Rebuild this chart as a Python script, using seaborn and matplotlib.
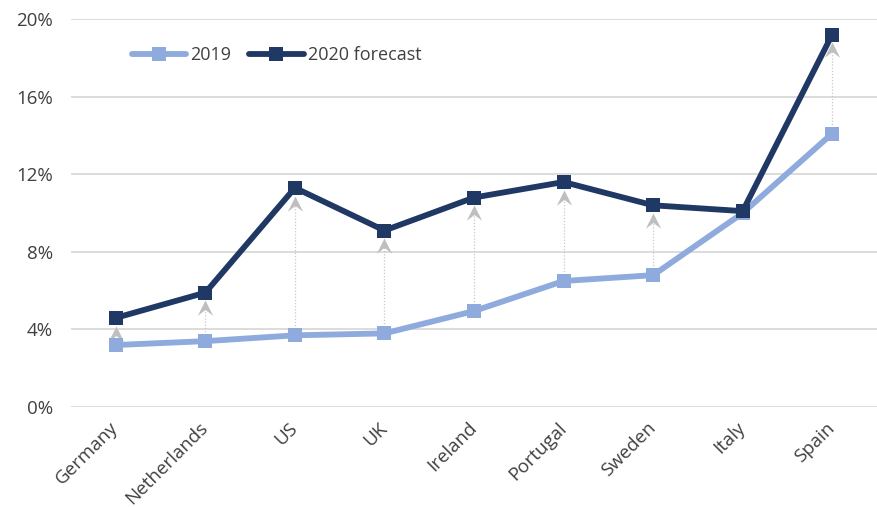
import numpy as np
import pandas as pd
import seaborn as sns
import matplotlib
matplotlib.use("Agg")
import matplotlib.pyplot as plt
from matplotlib.path import Path
from matplotlib.ticker import FuncFormatter

countries = ["Germany", "Netherlands", "US", "UK", "Ireland", "Portugal", "Sweden", "Italy", "Spain"]
rate_2019 = [3.2, 3.4, 3.7, 3.8, 4.95, 6.5, 6.8, 10.0, 14.1]
rate_2020 = [4.6, 5.9, 11.3, 9.1, 10.8, 11.6, 10.4, 10.1, 19.2]
series_names = ["2019", "2020 forecast"]
y_ticks = [0, 4, 8, 12, 16, 20]

sns.set_theme(style="white")
plt.rcParams["font.family"] = ["Open Sans", "DejaVu Sans"]

df = pd.DataFrame({
    "country": countries * 2,
    "rate": rate_2019 + rate_2020,
    "series": [series_names[0]] * len(countries) + [series_names[1]] * len(countries),
})

fig = plt.figure(figsize=(8.77, 5.07), dpi=100)
ax = fig.add_axes([0.081, 0.197, 0.919, 0.7655])

colors = {"2019": "#8FAADC", "2020 forecast": "#203864"}
sns.lineplot(data=df, x="country", y="rate", hue="series", palette=colors,
             style="series", markers={"2019": "s", "2020 forecast": "s"},
             dashes=False, sort=False, linewidth=4.2, markersize=10.5,
             markeredgewidth=0, ax=ax, zorder=3)

# stealth arrowhead marker with the tip at the data point
head = Path([(0, 0), (-0.5, -1.0), (0, -0.62), (0.5, -1.0), (0, 0)],
            [Path.MOVETO, Path.LINETO, Path.LINETO, Path.LINETO, Path.CLOSEPOLY])

gap = 0.4
for i, (a, b) in enumerate(zip(rate_2019, rate_2020)):
    if b - a > 0.5:
        tip = b - gap
        ax.plot([i, i], [a, tip - 0.4], linestyle=(0, (1, 1.5)), color="#C8C8C8",
                linewidth=0.9, zorder=1)
        ax.plot([i], [tip], marker=head, markersize=22, color="#BFBFBF",
                markeredgewidth=0, linestyle="none", zorder=2)

ax.set_xlim(-0.5, len(countries) - 0.5)
ax.set_ylim(0, 20)
ax.set_yticks(y_ticks)
ax.yaxis.set_major_formatter(FuncFormatter(lambda v, _: f"{v:.0f}%"))
ax.grid(axis="y", color="#D9D9D9", linewidth=1.3)
ax.grid(axis="x", visible=False)
for s in ax.spines.values():
    s.set_visible(False)
ax.set_xlabel("")
ax.set_ylabel("")
ax.tick_params(axis="y", length=0, pad=13, labelsize=13.5, labelcolor="#404040")
ax.tick_params(axis="x", length=0, pad=13, labelsize=13.5, labelcolor="#404040")
for lab in ax.get_xticklabels():
    lab.set_rotation(45)
    lab.set_ha("right")
    lab.set_va("center")
    lab.set_rotation_mode("anchor")

leg = ax.legend(loc="center left", bbox_to_anchor=(0.055, 0.907), ncol=2,
                frameon=False, fontsize=13, handlelength=3.0, handletextpad=0.25,
                columnspacing=1.0)
for t in leg.get_texts():
    t.set_color("#404040")

fig.savefig("out.png", dpi=100)
